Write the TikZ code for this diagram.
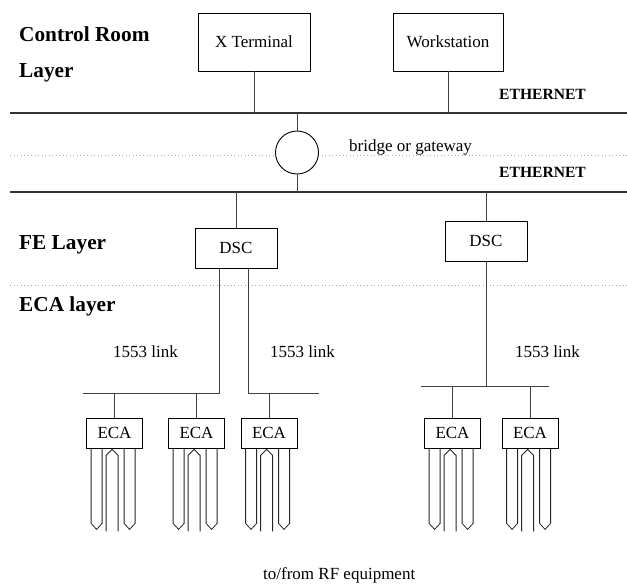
\documentclass[tikz,border=0pt]{standalone}
\usepackage{fontspec}
\setmainfont{Liberation Serif}
\begin{document}
\begin{tikzpicture}[x=1pt,y=-1pt,
  box/.style={draw, line width=0.8pt, inner sep=0pt, font=\fontsize{17}{20}\selectfont},
  lbl/.style={anchor=base west, inner sep=0pt, font=\fontsize{17}{20}\selectfont},
  layer/.style={anchor=base west, inner sep=0pt, font=\fontsize{21.3}{25}\selectfont\bfseries},
  eth/.style={anchor=base west, inner sep=0pt, font=\fontsize{15.6}{18}\selectfont\bfseries},
  bus/.style={line width=1.4pt, draw=black!80},
  wire/.style={line width=0.8pt, draw=black!75},
  sep/.style={draw=black!35, line width=0.7pt, dash pattern=on 0.7pt off 2.8pt},
  prong/.style={line width=0.8pt, draw=black!85}]
\useasboundingbox (0,0) rectangle (627,584);
% separators
\coordinate (s1w) at (10,155.5); \coordinate (s1e) at (627,155.5);
\coordinate (s2w) at (10,285); \coordinate (s2e) at (627,285);
\draw[sep] (s1w) -- (s1e);
\draw[sep] (s2w) -- (s2e);
% buses
\coordinate (e1w) at (10,113); \coordinate (e1e) at (627,113);
\coordinate (e2w) at (10,192); \coordinate (e2e) at (627,192);
\coordinate (b1w) at (83,393); \coordinate (b1m) at (219,393);
\coordinate (b2m) at (248,393); \coordinate (b2e) at (319,393);
\coordinate (b3w) at (421,386); \coordinate (b3e) at (549,386);
\draw[bus] (e1w) -- (e1e);
\draw[bus] (e2w) -- (e2e);
% nodes
\node[box, minimum width=112pt, minimum height=58pt] (xterm) at (254,42) {X Terminal};
\node[box, minimum width=110pt, minimum height=58pt] (ws) at (448,42) {Workstation};
\node[draw, circle, fill=white, line width=0.9pt, minimum size=43pt, inner sep=0pt] (bridge) at (297,152.5) {};
\node[box, minimum width=82pt, minimum height=40pt] (dsc1) at (236,248) {DSC};
\node[box, minimum width=82pt, minimum height=40pt] (dsc2) at (486,241) {DSC};
\foreach \n/\x in {eca1/114.5, eca2/196.5, eca3/269, eca4/452.5, eca5/530}
  \node[box, minimum width=56pt, minimum height=30pt] (\n) at (\x,433) {ECA};
% prongs
\foreach \n in {eca1,eca2,eca3,eca4,eca5}
  \draw[prong, shift={(\n.south west)}]
    (5,0) -- (5,75) -- (10.5,81) -- (16,75) -- (16,0)
    (20,83) -- (20,7) -- (26,1) -- (32,7) -- (32,83)
    (38,0) -- (38,75) -- (43.5,81) -- (49,75) -- (49,0);
% connectors
\draw[wire] (xterm.south) -- (xterm.south |- e1w);
\draw[wire] (ws.south) -- (ws.south |- e1w);
\draw[wire] (bridge.north) -- (bridge.north |- e1w);
\draw[wire] (bridge.south) -- (bridge.south |- e2w);
\draw[wire] (dsc1.north) -- (dsc1.north |- e2w);
\draw[wire] (dsc2.north) -- (dsc2.north |- e2w);
\draw[wire] ([xshift=-17pt]dsc1.south) -- (b1m) -- (b1w);
\draw[wire] ([xshift=12pt]dsc1.south) -- (b2m) -- (b2e);
\draw[wire] (dsc2.south) -- (dsc2.south |- b3w);
\draw[wire] (b3w) -- (b3e);
\foreach \n in {eca1,eca2} \draw[wire] (\n.north) -- (\n.north |- b1w);
\draw[wire] (eca3.north) -- (eca3.north |- b2m);
\foreach \n in {eca4,eca5} \draw[wire] (\n.north) -- (\n.north |- b3w);
% labels
\node[layer] (cr) at (19,41.7) {Control Room};
\node[layer] (lay) at (19,77.7) {Layer};
\node[layer] (fe) at (19,249.3) {FE Layer};
\node[layer] (ecal) at (19,311) {ECA layer};
\node[eth] (eth1t) at (499,99) {ETHERNET};
\node[eth] (eth2t) at (499,177.7) {ETHERNET};
\node[lbl] (brt) at (349,151.5) {bridge or gateway};
\node[lbl] (l1) at (113,357) {1553 link};
\node[lbl] (l2) at (270,357) {1553 link};
\node[lbl] (l3) at (515,357) {1553 link};
\node[lbl] (rf) at (263,579) {to/from RF equipment};
\end{tikzpicture}
\end{document}
